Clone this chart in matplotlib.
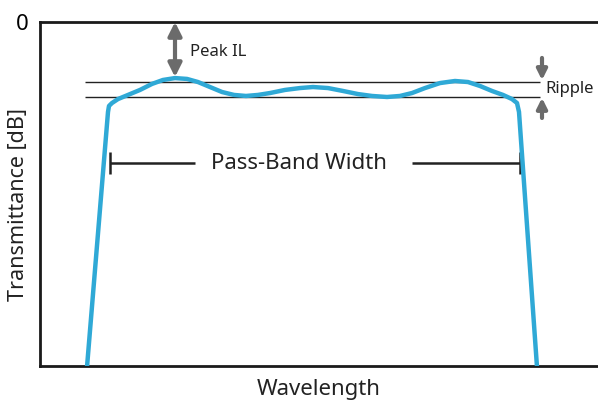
import matplotlib
matplotlib.use("Agg")
import matplotlib.pyplot as plt
from matplotlib.patches import FancyArrowPatch

plt.rcParams["font.family"] = ["Noto Sans", "DejaVu Sans"]

# filter response (relative wavelength, dB)
wavelength = [47, 68, 69, 72, 78, 88, 100, 112, 123, 135, 147, 158, 170, 182,
              194, 206, 218, 230, 245, 260, 273, 288, 303, 318, 332, 347, 360,
              372, 385, 400, 415, 428, 440, 452, 463, 472, 477, 479, 497]
transmittance = [-20.06, -5.23, -4.88, -4.71, -4.48, -4.24, -3.95, -3.60, -3.37,
                 -3.26, -3.31, -3.49, -3.78, -4.07, -4.24, -4.30, -4.24, -4.13,
                 -3.95, -3.84, -3.78, -3.84, -4.01, -4.19, -4.30, -4.36, -4.30,
                 -4.13, -3.84, -3.55, -3.43, -3.49, -3.72, -4.01, -4.24, -4.48,
                 -4.71, -5.23, -20.06]

ripple_top = -3.46
ripple_bottom = -4.36
ripple_span = [45, 500]
peak_x = 135
peak_il = -3.20
band_edges = [70, 480]
band_level = -8.20
band_label_x = 259

curve_color = "#2fa9d6"
arrow_color = "#6b6b6b"
text_color = "#222222"

fig = plt.figure(figsize=(5.98, 4.03), dpi=100)
ax = fig.add_axes([40 / 598, 37 / 403, 1 - 40 / 598, 344 / 403])

ax.plot(wavelength, transmittance, color=curve_color, linewidth=3.2,
        solid_capstyle="butt", solid_joinstyle="round", zorder=3)

# ripple reference lines
ax.hlines([ripple_top, ripple_bottom], ripple_span[0], ripple_span[1],
          color=text_color, linewidth=1.0, zorder=2)

# peak insertion loss arrow
ax.add_patch(FancyArrowPatch((peak_x, 0), (peak_x, peak_il),
                             arrowstyle="<|-|>", mutation_scale=20,
                             color=arrow_color, linewidth=3.0,
                             shrinkA=0, shrinkB=0, zorder=4))
ax.text(150, -1.75, "Peak IL", fontsize=12, va="center", ha="left",
        color=text_color)

# ripple arrows
ax.annotate("", xy=(502, ripple_top + 0.08), xytext=(502, -2.09),
            arrowprops=dict(arrowstyle="-|>", mutation_scale=15,
                            color=arrow_color, linewidth=3, shrinkA=0, shrinkB=0))
ax.annotate("", xy=(502, ripple_bottom - 0.05), xytext=(502, -5.58),
            arrowprops=dict(arrowstyle="-|>", mutation_scale=15,
                            color=arrow_color, linewidth=3, shrinkA=0, shrinkB=0))
ax.text(505, -3.9, "Ripple", fontsize=12, va="center", ha="left",
        color=text_color, clip_on=False)

# pass-band width marker
ax.hlines(band_level, band_edges[0], 155, color=text_color, linewidth=1.8)
ax.hlines(band_level, 372, band_edges[1], color=text_color, linewidth=1.8)
ax.vlines(band_edges, band_level - 0.65, band_level + 0.65,
          color=text_color, linewidth=1.8)
ax.text(band_label_x, band_level, "Pass-Band Width", fontsize=16, ha="center",
        va="center", color=text_color)

ax.set_xlim(0, 558)
ax.set_ylim(-20, 0)
ax.spines["right"].set_visible(False)
for side in ["left", "top", "bottom"]:
    ax.spines[side].set_linewidth(2.0)
    ax.spines[side].set_color("#1a1a1a")
ax.set_xticks([])
ax.set_yticks([0])
ax.set_yticklabels(["0"], fontsize=16)
ax.tick_params(axis="y", length=0, pad=8)
ax.set_xlabel("Wavelength", fontsize=16, labelpad=9, color=text_color)
ax.set_ylabel("Transmittance [dB]", fontsize=15.5, color=text_color)
ax.yaxis.set_label_coords(-0.019, 0.47)

fig.savefig("out.png", dpi=100)
